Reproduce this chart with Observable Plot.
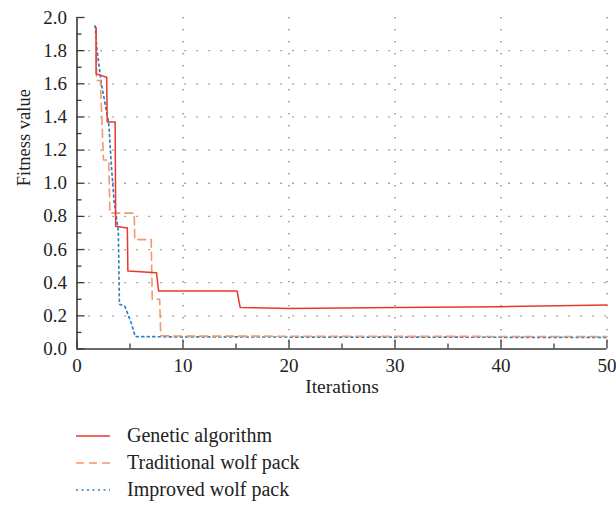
<!DOCTYPE html>
<html>
<head>
<meta charset="utf-8">
<script src="https://cdn.jsdelivr.net/npm/d3@7"></script>
<script src="https://cdn.jsdelivr.net/npm/@observablehq/plot@0.6"></script>
<style>
  html, body { margin: 0; padding: 0; background: #fff; }
  #chart { width: 616px; }
  .legend { font-family: "Liberation Serif", serif; font-size: 20px; color: #222; padding: 12px 0 0 76px; }
  .legend .row { display: flex; align-items: center; height: 27px; }
  .legend svg { margin-right: 17px; }
</style>
</head>
<body>
<div id="chart"></div>
<script>
// Series names
const seriesNames = ["Genetic algorithm", "Traditional wolf pack", "Improved wolf pack"];
const seriesColors = ["#e8382e", "#f4976a", "#2f80c4"];

// Genetic algorithm
const gaX = [1.8, 1.8, 2.8, 2.85, 3.6, 3.65, 4.75, 4.8, 7.5, 7.7, 15.1, 15.4, 20, 30, 40, 50];
const gaY = [1.94, 1.66, 1.64, 1.37, 1.37, 0.74, 0.73, 0.47, 0.46, 0.35, 0.35, 0.25, 0.245, 0.25, 0.255, 0.265];

// Traditional wolf pack
const twX = [1.8, 1.85, 2.2, 2.5, 3.0, 3.1, 5.4, 5.45, 7.0, 7.1, 7.8, 7.9, 10, 50];
const twY = [1.93, 1.62, 1.62, 1.14, 1.14, 0.82, 0.82, 0.66, 0.66, 0.30, 0.30, 0.08, 0.078, 0.075];

// Improved wolf pack
const iwX = [1.7, 1.9, 2.3, 3.0, 3.25, 3.5, 3.9, 4.0, 4.5, 5.1, 5.5, 10, 50];
const iwY = [1.95, 1.8, 1.6, 1.36, 1.1, 0.89, 0.71, 0.27, 0.26, 0.16, 0.075, 0.073, 0.07];

// Ticks
const xMajor = [0, 10, 20, 30, 40, 50];
const xMinor = [5, 15, 25, 35, 45];
const yMajor = [0, 0.2, 0.4, 0.6, 0.8, 1.0, 1.2, 1.4, 1.6, 1.8, 2.0];
const yMinor = [0.1, 0.3, 0.5, 0.7, 0.9, 1.1, 1.3, 1.5, 1.7, 1.9];
const xGrid = [10, 20, 30, 40, 50];
const yGrid = [0.2, 0.4, 0.6, 0.8, 1.0, 1.2, 1.4, 1.6, 1.8];

const xLabel = "Iterations";
const yLabel = "Fitness value";

const toRows = (xs, ys) => xs.map((x, i) => ({x, y: ys[i]}));
const ga = toRows(gaX, gaY), tw = toRows(twX, twY), iw = toRows(iwX, iwY);

const W = 616, H = 410, mL = 76.5, mR = 9.5, mT = 17, mB = 61.5;
const innerW = W - mL - mR, innerH = H - mT - mB;
const axisColor = "#3a3a3a";
const font = "Liberation Serif";

const chart = Plot.plot({
  width: W, height: H,
  marginLeft: mL, marginRight: mR, marginTop: mT, marginBottom: mB,
  style: {fontFamily: font, fontSize: "19px", color: "#222", background: "#fff"},
  x: {domain: [0, 50]},
  y: {domain: [0, 2]},
  marks: [
    Plot.ruleY(yGrid, {stroke: "#777", strokeWidth: 1.3, strokeDasharray: "1.3,10.7"}),
    Plot.ruleX(xGrid, {stroke: "#777", strokeWidth: 1.3, strokeDasharray: "1.3,10.7"}),
    Plot.line(iw, {x: "x", y: "y", stroke: seriesColors[2], strokeWidth: 1.7, strokeDasharray: "2,3.5"}),
    Plot.line(tw, {x: "x", y: "y", stroke: seriesColors[1], strokeWidth: 1.6, strokeDasharray: "8,5"}),
    Plot.line(ga, {x: "x", y: "y", stroke: seriesColors[0], strokeWidth: 1.5}),
    // axis lines
    Plot.ruleX([0], {stroke: axisColor, strokeWidth: 1.6}),
    Plot.ruleY([0], {stroke: axisColor, strokeWidth: 1.6}),
    // inward ticks
    Plot.ruleY(yMajor, {stroke: axisColor, strokeWidth: 1.3, insetRight: innerW - 8}),
    Plot.ruleY(yMinor, {stroke: axisColor, strokeWidth: 1.3, insetRight: innerW - 5}),
    Plot.ruleX(xMajor, {stroke: axisColor, strokeWidth: 1.3, insetTop: innerH - 9}),
    Plot.ruleX(xMinor, {stroke: axisColor, strokeWidth: 1.3, insetTop: innerH - 5}),
    // tick labels
    Plot.axisY(yMajor, {tickSize: 0, tickPadding: 10, tickFormat: d3.format(".1f"), label: null, fontSize: 19}),
    Plot.axisX(xMajor, {tickSize: 0, tickPadding: 9, label: null, fontSize: 19}),
    // axis titles
    Plot.text([yLabel], {frameAnchor: "left", dx: -53, dy: 3, rotate: -90, fontSize: 18.5, fill: "#222"}),
    Plot.text([xLabel], {frameAnchor: "bottom", dy: 44, fontSize: 19.5, fill: "#222"})
  ]
});
document.getElementById("chart").appendChild(chart);

// Legend
const legend = document.createElement("div");
legend.className = "legend";
const dashes = [null, "8,5", "2,3.5"];
seriesNames.forEach((name, i) => {
  const row = document.createElement("div");
  row.className = "row";
  const sw = d3.create("svg").attr("width", 34).attr("height", 10);
  sw.append("line").attr("x1", 0).attr("x2", 34).attr("y1", 5).attr("y2", 5)
    .attr("stroke", seriesColors[i]).attr("stroke-width", 1.6)
    .attr("stroke-dasharray", dashes[i]);
  row.appendChild(sw.node());
  const label = document.createElement("span");
  label.textContent = name;
  row.appendChild(label);
  legend.appendChild(row);
});
document.getElementById("chart").appendChild(legend);
</script>
</body>
</html>
